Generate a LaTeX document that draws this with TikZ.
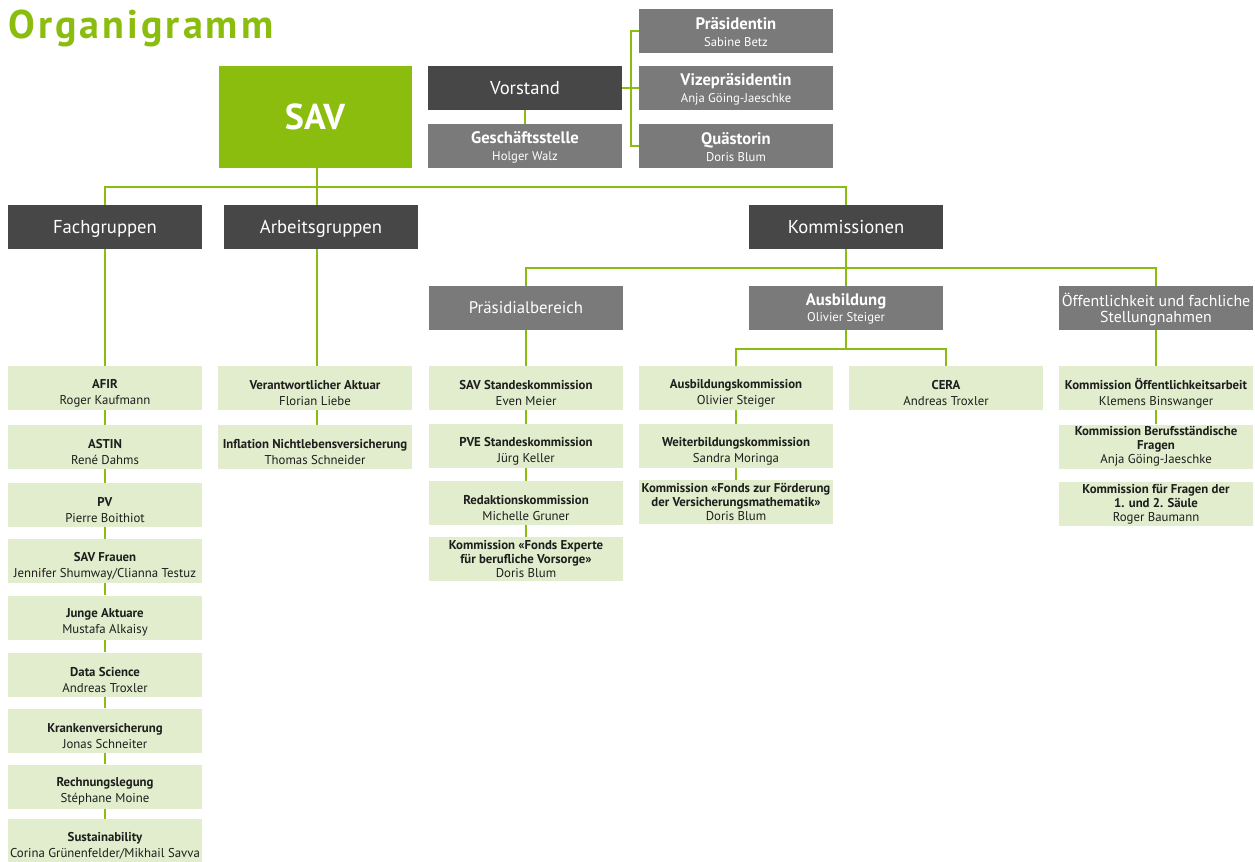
\documentclass[tikz,border=0pt]{standalone}
\usepackage{fontspec}
\setmainfont{PT Sans}
\definecolor{gn}{HTML}{8BBD0E}
\definecolor{dk}{HTML}{474747}
\definecolor{gr}{HTML}{7A7A7A}
\definecolor{lt}{HTML}{E1EDCC}
\definecolor{tx}{HTML}{1E1E1E}
\newcommand\pname[1]{{\fontsize{9.5}{12.5}\selectfont\mdseries #1}}
\newcommand\bx[4]{\node[#1] (#2) at (#3) {}; \node[#1t] at (#2.center) {#4};}
\begin{document}
\begin{tikzpicture}[x=0.75pt,y=-0.75pt,
  box/.style={rectangle, inner sep=0pt, minimum width=145.5pt, minimum height=33pt, align=center},
  dbox/.style={box, fill=dk, text=white, font=\fontsize{14}{16}\selectfont, text depth=0pt},
  gbox/.style={box, fill=gr},
  gboxt/.style={inner sep=0pt, align=center, text=white, font=\fontsize{12.5}{12.5}\selectfont, yshift=-0.8pt},
  oebox/.style={box, fill=gr},
  oeboxt/.style={inner sep=0pt, align=center, text=white, font=\fontsize{11.9}{12}\selectfont, yshift=-1.4pt},
  gboxone/.style={box, fill=gr, text=white, font=\fontsize{12.6}{14}\selectfont, text depth=0pt},
  lbox/.style={box, fill=lt},
  lboxt/.style={inner sep=0pt, align=center, text=tx, font=\fontsize{9.6}{12}\selectfont, yshift=-3.8pt},
  lbthree/.style={box, fill=lt},
  lbthreet/.style={inner sep=0pt, align=center, text=tx, font=\fontsize{9.6}{10.5}\selectfont},
  conn/.style={draw=gn, line width=1.1pt}]
\useasboundingbox (0,0) rectangle (1255,861);

\node[anchor=base west, inner sep=0pt, text=gn, font=\fontsize{30}{32}\selectfont\bfseries\addfontfeature{LetterSpace=7.7}] (title) at (8,38) {Organigramm};

% top
\node[box, fill=gn, text=white, minimum width=144.75pt, minimum height=76.5pt, font=\fontsize{27}{30}\selectfont\bfseries] (sav) at (315,117) {SAV};
\node[dbox] (vorstand) at (525,88) {Vorstand};
\bx{gbox}{gst}{525,146}{\textbf{Geschäftsstelle}\\\pname{Holger Walz}}
\bx{gbox}{praes}{736,31}{\textbf{Präsidentin}\\\pname{Sabine Betz}}
\bx{gbox}{vize}{736,88}{\textbf{Vizepräsidentin}\\\pname{Anja Göing-Jaeschke}}
\bx{gbox}{quaest}{736,146}{\textbf{Quästorin}\\\pname{Doris Blum}}

% second level
\node[dbox] (fach) at (105,227) {Fachgruppen};
\node[dbox] (arb) at (321,227) {Arbeitsgruppen};
\node[dbox] (komm) at (846,227) {Kommissionen};

% third level
\node[gboxone] (praesb) at (526,308) {Präsidialbereich};
\bx{gbox}{ausb}{846,308}{\textbf{Ausbildung}\\\pname{Olivier Steiger}}
\bx{oebox}{oeff}{1156,308}{Öffentlichkeit und fachliche\\Stellungnahmen}

% Fachgruppen
\bx{lbox}{afir}{105,388}{\textbf{AFIR}\\Roger Kaufmann}
\bx{lbox}{astin}{105,447}{\textbf{ASTIN}\\René Dahms}
\bx{lbox}{pv}{105,505}{\textbf{PV}\\Pierre Boithiot}
\bx{lbox}{frauen}{105,561}{\textbf{SAV Frauen}\\Jennifer Shumway/Clianna Testuz}
\bx{lbox}{junge}{105,617.5}{\textbf{Junge Aktuare}\\Mustafa Alkaisy}
\bx{lbox}{data}{105,674.5}{\textbf{Data Science}\\Andreas Troxler}
\bx{lbox}{kranken}{105,730.5}{\textbf{Krankenversicherung}\\Jonas Schneiter}
\bx{lbox}{rech}{105,786.5}{\textbf{Rechnungslegung}\\Stéphane Moine}
\bx{lbox}{sust}{105,841}{\textbf{Sustainability}\\Corina Grünenfelder/Mikhail Savva}

% Arbeitsgruppen
\bx{lbox}{va}{315,388}{\textbf{Verantwortlicher Aktuar}\\Florian Liebe}
\bx{lbox}{infl}{315,447}{\textbf{Inflation Nichtlebensversicherung}\\Thomas Schneider}

% Praesidialbereich
\bx{lbox}{sk}{526,388}{\textbf{SAV Standeskommission}\\Even Meier}
\bx{lbox}{pve}{526,446}{\textbf{PVE Standeskommission}\\Jürg Keller}
\bx{lbox}{red}{526,503}{\textbf{Redaktionskommission}\\Michelle Gruner}
\bx{lbthree}{fexp}{526,559}{\textbf{Kommission «Fonds Experte}\\\textbf{für berufliche Vorsorge»}\\Doris Blum}

% Ausbildung
\bx{lbox}{ak}{736,388}{\textbf{Ausbildungskommission}\\Olivier Steiger}
\bx{lbox}{wb}{736,446}{\textbf{Weiterbildungskommission}\\Sandra Moringa}
\bx{lbthree}{ff}{736,502}{\textbf{Kommission «Fonds zur Förderung}\\\textbf{der Versicherungsmathematik»}\\Doris Blum}
\bx{lbox}{cera}{946,388}{\textbf{CERA}\\Andreas Troxler}

% Oeffentlichkeit
\bx{lbox}{oa}{1156,388}{\textbf{Kommission Öffentlichkeitsarbeit}\\Klemens Binswanger}
\bx{lbthree}{bf}{1156,446.5}{\textbf{Kommission Berufsständische}\\\textbf{Fragen}\\Anja Göing-Jaeschke}
\bx{lbthree}{fr}{1156,504}{\textbf{Kommission für Fragen der}\\\textbf{1. und 2. Säule}\\Roger Baumann}

% connectors
\coordinate (vb) at (631,88);
\draw[conn] (vorstand.east) -- (vb);
\draw[conn] (praes.west) -| (vb);
\draw[conn] (quaest.west) -| (vb);
\draw[conn] (vize.west) -- (vb);
\draw[conn] (vorstand.south) -- (gst.north);

\coordinate (b1) at (317,187);
\draw[conn] (b1 |- sav.south) -- (b1 |- arb.north);
\draw[conn] (fach.north) |- (b1) -| (komm.north);

\coordinate (k1) at (846,268);
\draw[conn] (komm.south) -- (ausb.north);
\draw[conn] (praesb.north) |- (k1) -| (oeff.north);

\coordinate (a1) at (846,349);
\draw[conn] (ausb.south) -- (a1);
\draw[conn] (ak.north) |- (a1) -| (cera.north);

\draw[conn] (fach.south) -- (afir.north);
\foreach \a/\b in {afir/astin, astin/pv, pv/frauen, frauen/junge, junge/data, data/kranken, kranken/rech, rech/sust}
  \draw[conn] (\a.south) -- (\b.north);

\draw[conn] (b1 |- arb.south) -- (b1 |- va.north);
\draw[conn] (b1 |- va.south) -- (b1 |- infl.north);

\draw[conn] (praesb.south) -- (sk.north);
\foreach \a/\b in {sk/pve, pve/red, red/fexp}
  \draw[conn] (\a.south) -- (\b.north);

\draw[conn] (ak.south) -- (wb.north);
\draw[conn] (wb.south) -- (ff.north);

\draw[conn] (oeff.south) -- (oa.north);
\draw[conn] (oa.south) -- (bf.north);
\end{tikzpicture}
\end{document}
